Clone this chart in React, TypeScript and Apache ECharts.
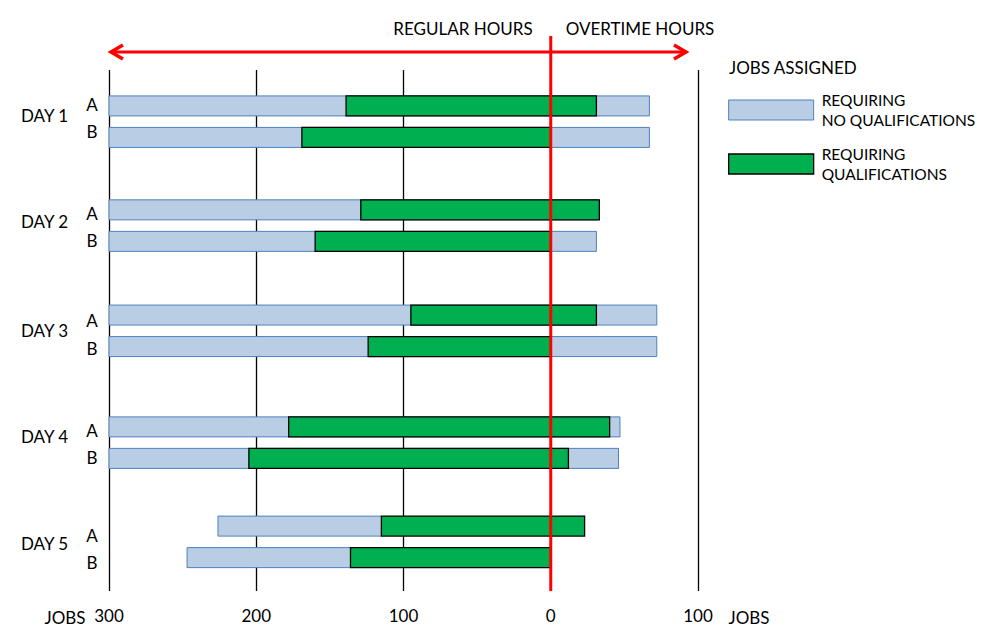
import React, { useEffect, useRef } from 'react';
import * as echarts from 'echarts';

// Rows: DAY 1 A, DAY 1 B, DAY 2 A, ... DAY 5 B
const days = ['DAY 1', 'DAY 2', 'DAY 3', 'DAY 4', 'DAY 5'];
const shifts = ['A', 'B'];
// Job counts on one axis: negative = regular hours (left of 0), positive = overtime hours
const noQualStart = [-300, -300, -300, -300, -300, -300, -300, -300, -226, -247];
const noQualEnd = [67, 67, 32, 31, 72, 72, 47, 46, -115, -136];
const qualStart = [-139, -169, -129, -160, -95, -124, -178, -205, -115, -136];
const qualEnd = [31, 0, 33, 0, 31, 0, 40, 12, 23, 0];
const xTickValues = [-300, -200, -100, 0, 100];

// layout of rows along the (hidden) vertical value axis
const dayRowPos = [1.14, 4.44, 7.78, 11.33, 14.48];
const shiftOffset = [0, 1.0];
const yMax = 16.54;

const FONT = 'Lato, "Noto Sans", sans-serif';
const BLUE_FILL = '#B9CDE5';
const BLUE_STROKE = '#4F81BD';
const GREEN_FILL = '#00B050';
const GREEN_STROKE = '#000000';
const RED = '#FF0000';

const NAME_NQ = 'REQUIRING\nNO QUALIFICATIONS';
const NAME_Q = 'REQUIRING\nQUALIFICATIONS';

function rowY(i: number) {
  return dayRowPos[Math.floor(i / 2)] + shiftOffset[i % 2];
}

const nqData = noQualStart.map((s, i) => [s, noQualEnd[i], rowY(i)]);
const qData = qualStart.map((s, i) => [s, qualEnd[i], rowY(i)]);

function makeRender(fill: string, stroke: string, lw: number) {
  return (params: any, api: any) => {
    const y = api.value(2);
    const a = api.coord([api.value(0), y]);
    const b = api.coord([api.value(1), y]);
    const h = 20;
    return {
      type: 'rect',
      shape: { x: a[0], y: a[1] - h / 2, width: b[0] - a[0], height: h },
      style: { fill, stroke, lineWidth: lw },
    };
  };
}

// label positions (annotation text)
const dayLabelY = [115, 221, 330, 436, 543];
const shiftLabelY = [
  [104, 131],
  [213, 240],
  [320, 348],
  [430, 457],
  [535, 562],
];

export default function App() {
  const ref = useRef<HTMLDivElement>(null);
  useEffect(() => {
    if (!ref.current) return;
    const chart = echarts.init(ref.current, undefined, { renderer: 'svg' });
    const option: any = {
      animation: false,
      backgroundColor: '#ffffff',
      grid: { left: 109, right: 286, top: 70, bottom: 51, containLabel: false },
      xAxis: {
        type: 'value',
        min: -300,
        max: 100,
        interval: 100,
        axisLine: { show: false },
        axisTick: { show: false },
        axisLabel: {
          formatter: (v: number) => String(Math.abs(v)),
          fontSize: 17,
          fontFamily: FONT,
          color: '#000',
          margin: 16,
        },
        splitLine: {
          show: true,
          lineStyle: {
            color: xTickValues.map((v) => (v === 0 ? 'rgba(0,0,0,0)' : '#000')),
            width: 1.3,
          },
        },
      },
      yAxis: {
        type: 'value',
        inverse: true,
        min: 0,
        max: yMax,
        show: false,
        splitLine: { show: false },
      },
      legend: {
        orient: 'vertical',
        left: 728,
        top: 90,
        padding: 0,
        itemWidth: 85,
        itemHeight: 20,
        itemGap: 14,
        icon: 'rect',
        selectedMode: false,
        textStyle: {
          fontSize: 15.5,
          fontFamily: FONT,
          color: '#000',
          lineHeight: 20,
          padding: [0, 0, 0, 3],
        },
        data: [
          { name: NAME_NQ, itemStyle: { color: BLUE_FILL, borderColor: BLUE_STROKE, borderWidth: 1 } },
          { name: NAME_Q, itemStyle: { color: GREEN_FILL, borderColor: GREEN_STROKE, borderWidth: 1.3 } },
        ],
      },
      series: [
        {
          type: 'custom',
          name: NAME_NQ,
          renderItem: makeRender(BLUE_FILL, BLUE_STROKE, 1),
          encode: { x: [0, 1], y: 2 },
          itemStyle: { color: BLUE_FILL, borderColor: BLUE_STROKE },
          data: nqData,
          z: 2,
        },
        {
          type: 'custom',
          name: NAME_Q,
          renderItem: makeRender(GREEN_FILL, GREEN_STROKE, 1.3),
          encode: { x: [0, 1], y: 2 },
          itemStyle: { color: GREEN_FILL, borderColor: GREEN_STROKE },
          data: qData,
          z: 3,
        },
      ],
    };
    chart.setOption(option);

    const p0 = chart.convertToPixel({ gridIndex: 0 }, [0, 0]) as number[];
    const pL = chart.convertToPixel({ gridIndex: 0 }, [-300, 0]) as number[];
    const zeroX = p0[0];
    const leftX = pL[0];
    const arrowY = 52;
    const arrowRight = 688;
    const gridBottom = 642 - 51;

    const txt = (text: string, x: number, y: number, align: string, size = 17) => ({
      type: 'text',
      x,
      y,
      z: 50,
      style: {
        text,
        fill: '#000',
        fontSize: size,
        fontFamily: FONT,
        textAlign: align,
        textVerticalAlign: 'middle',
      },
    });

    const graphics: any[] = [];
    // red zero line
    graphics.push({
      type: 'line',
      z: 100,
      shape: { x1: zeroX, y1: 36, x2: zeroX, y2: gridBottom },
      style: { stroke: RED, lineWidth: 3 },
    });
    // double arrow
    graphics.push({
      type: 'line',
      z: 100,
      shape: { x1: leftX + 2, y1: arrowY, x2: arrowRight - 2, y2: arrowY },
      style: { stroke: RED, lineWidth: 3 },
    });
    graphics.push({
      type: 'polyline',
      z: 100,
      shape: { points: [[leftX + 14, arrowY - 7], [leftX + 2, arrowY], [leftX + 14, arrowY + 7]] },
      style: { stroke: RED, lineWidth: 3.5, fill: 'none' },
    });
    graphics.push({
      type: 'polyline',
      z: 100,
      shape: { points: [[arrowRight - 14, arrowY - 7], [arrowRight - 2, arrowY], [arrowRight - 14, arrowY + 7]] },
      style: { stroke: RED, lineWidth: 3.5, fill: 'none' },
    });
    graphics.push(txt('REGULAR HOURS', 463, 28, 'center'));
    graphics.push(txt('OVERTIME HOURS', 640, 28, 'center'));
    graphics.push(txt('JOBS ASSIGNED', 729, 67, 'left'));
    graphics.push(txt('JOBS', 65, 617, 'center'));
    graphics.push(txt('JOBS', 749, 617, 'center'));
    days.forEach((d, i) => {
      graphics.push(txt(d, 21, dayLabelY[i], 'left'));
      shifts.forEach((s, j) => {
        graphics.push(txt(s, 92, shiftLabelY[i][j], 'center'));
      });
    });
    chart.setOption({ graphic: graphics });

    return () => chart.dispose();
  }, []);
  return (
    <div
      ref={ref}
      style={{ position: 'fixed', left: 0, top: 0, width: 984, height: 642, background: '#fff' }}
    />
  );
}
